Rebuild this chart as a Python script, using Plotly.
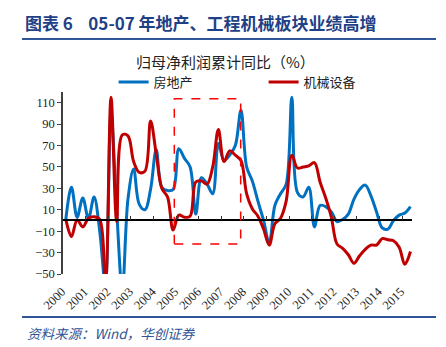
import plotly.graph_objects as go

# ---- data (quarterly, 2000Q1 .. 2015Q2) ----
years = list(range(2000, 2016))
quarters = [f"{y}Q{q}" for y in years for q in range(1, 5)][:62]

property_yoy = [
    1, 31, 3, 21, 2, 22, -10, -60, 100, 10, -65, 20,
    48, 15, 10, 29, 66, 31, 28, 29, 67, 58, 50, 6,
    40, 34, 25, 72, 56, 61, 70, 103, 50, 37, 18, 0,
    -21, 14, 25, 34, 115, 26, 22, 31, -6, 14, 13, 8,
    -1, 1, 6, 20, 29, 33, 23, 8, -7, -8, 0, 5,
    7, 13,
]
machinery_yoy = [
    1, -15, 0.5, -6, 2, 3.5, 1, -60, 115, -1, 80, 79,
    55, 45, 46, 93, 62, 30, 22, -9, 5, 3, 4, 36,
    37, 34, 50, 85, 55, 65, 61, 56, 25, 11, 4, -8,
    -23, -3, 2, 18, 61, 49, 50, 51, 54, 36, 21, 3,
    -22, -26, -32, -40, -33, -27, -23, -23, -17, -18, -19, -25,
    -41, -29,
]
y_ticks = list(range(-50, 111, 20))

BLUE = "#0070C0"
RED = "#C00000"
NAVY = "#1F3F86"
SERIF = "Liberation Serif, Times New Roman, serif"
CJK = "Noto Sans CJK SC, sans-serif"

idx = list(range(len(quarters)))
X_RANGE = [-0.5, 61.27]
Y_RANGE = [-50, 120]

fig = go.Figure()
fig.add_trace(go.Scatter(
    x=idx, y=property_yoy, name="房地产", mode="lines",
    line=dict(color=BLUE, width=3, shape="spline", smoothing=1.0),
    text=quarters, hoverinfo="text+y"))
fig.add_trace(go.Scatter(
    x=idx, y=machinery_yoy, name="机械设备", mode="lines",
    line=dict(color=RED, width=3, shape="spline", smoothing=1.0),
    text=quarters, hoverinfo="text+y"))
# carrier trace for the zero-line axis
fig.add_trace(go.Scatter(x=[None], y=[None], xaxis="x2", showlegend=False,
                         hoverinfo="skip"))

# highlight box 2005-2007
fig.add_shape(type="rect", xref="x", yref="y", x0=19.2, x1=30.95, y0=-22, y1=113.7,
              line=dict(color="#FF0000", width=1.5, dash="dash"))

# header and footer
fig.add_annotation(xref="paper", yref="paper", x=-0.1146, y=1.3846,
                   xanchor="left", yanchor="middle", showarrow=False,
                   text="<b>图表&nbsp;6&nbsp;&nbsp;&nbsp;&nbsp;05-07 年地产、工程机械板块业绩高增</b>",
                   font=dict(family=CJK, size=17, color=NAVY))
fig.add_shape(type="line", xref="paper", yref="paper", x0=-0.1175, x1=1.0688,
              y0=1.2912, y1=1.2912, line=dict(color="#2F5597", width=2))
fig.add_annotation(xref="paper", yref="paper", x=0.467, y=1.165,
                   xanchor="center", yanchor="middle", showarrow=False,
                   text="归母净利润累计同比（%）",
                   font=dict(family=CJK, size=15, color="#222222"))
fig.add_shape(type="line", xref="paper", yref="paper", x0=-0.1175, x1=1.0688,
              y0=-0.2363, y1=-0.2363, line=dict(color="#2F5597", width=2))
fig.add_annotation(xref="paper", yref="paper", x=-0.1089, y=-0.3242,
                   xanchor="left", yanchor="middle", showarrow=False,
                   text="<i>资料来源：Wind，华创证券</i>",
                   font=dict(family=CJK, size=13.5, color="#2F5597"))

fig.update_layout(
    width=446, height=347,
    margin=dict(l=63, r=34, t=92, b=73),
    paper_bgcolor="white", plot_bgcolor="white",
    showlegend=True,
    legend=dict(orientation="h", x=0.145, y=1.055, xanchor="left", yanchor="middle",
                bgcolor="rgba(0,0,0,0)", font=dict(family=CJK, size=13, color="#222222"),
                entrywidth=105, entrywidthmode="pixels", itemwidth=30,
                tracegroupgap=0),
    xaxis=dict(range=X_RANGE, tickmode="array",
               tickvals=[4 * k for k in range(len(years))],
               ticktext=[str(y) for y in years], tickangle=-45,
               showline=False, showgrid=False, zeroline=False, ticks="",
               ticklabelstandoff=7, ticklabelshift=-4,
               tickfont=dict(family=SERIF, size=12.5, color="#222222")),
    xaxis2=dict(range=X_RANGE, overlaying="x", anchor="free", position=50 / 170,
                showline=True, linecolor="black", linewidth=1.5,
                tickmode="array", tickvals=[-0.5 + 4 * k for k in range(len(years))],
                ticks="inside", ticklen=4, tickcolor="#333333", tickwidth=1.2,
                showticklabels=False, showgrid=False, zeroline=False),
    yaxis=dict(range=Y_RANGE, tickmode="array", tickvals=y_ticks,
               showline=True, linecolor="#404040", linewidth=1.5,
               ticks="outside", ticklen=4, tickcolor="#404040",
               showgrid=False, zeroline=False,
               tickfont=dict(family=SERIF, size=12.5, color="#222222")),
)

fig.write_html("out.html")
